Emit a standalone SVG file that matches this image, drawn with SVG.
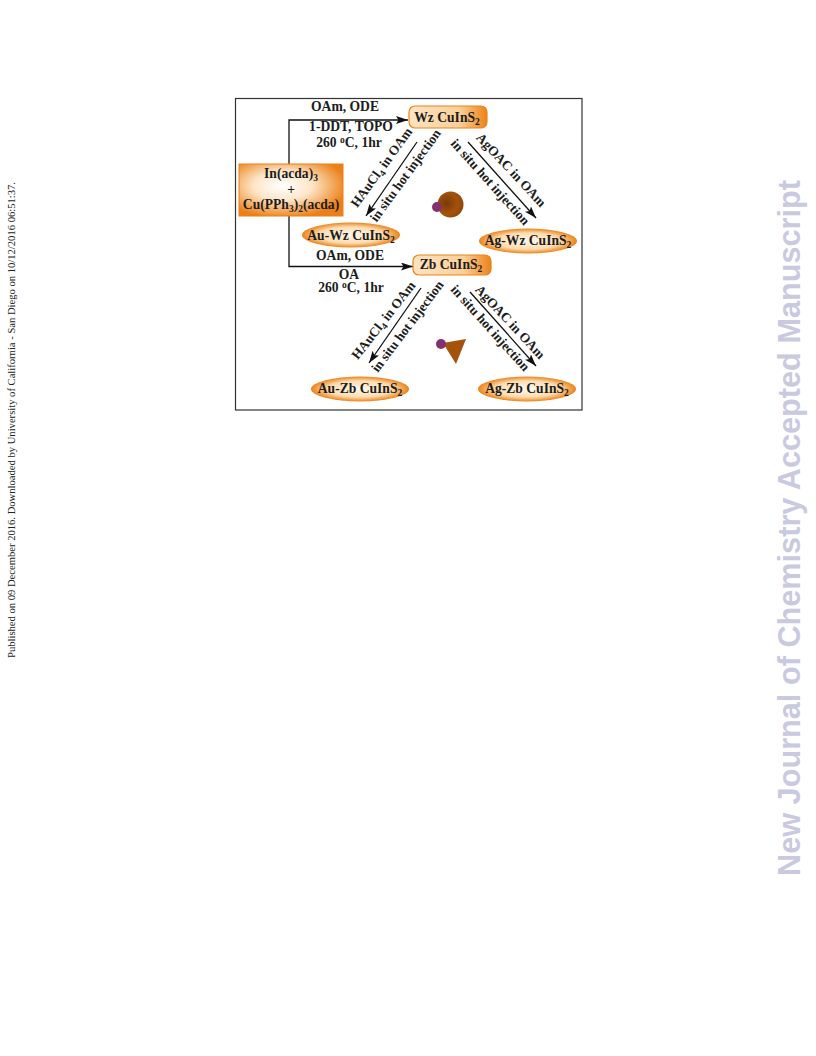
<svg xmlns="http://www.w3.org/2000/svg" width="816" height="1056" viewBox="0 0 816 1056">
<style>
.t{font-family:"Liberation Serif","Times New Roman",serif;font-weight:bold;font-size:13.6px;fill:#1c1c1c;text-anchor:middle}
.d{font-size:13.4px}
.s{font-size:9.5px}
.a{stroke:#111;stroke-width:1.3;fill:none;marker-end:url(#ah)}
</style>
<defs>
<marker id="ah" markerUnits="userSpaceOnUse" markerWidth="14" markerHeight="10" refX="12" refY="4" orient="auto"><path d="M0 0L12 4L0 8L2.5 4Z" fill="#111"/></marker>
<radialGradient id="e" cx="50%" cy="50%" r="50%"><stop offset="0" stop-color="#fff8ee"/><stop offset=".65" stop-color="#fcdcb0"/><stop offset="1" stop-color="#ec8318"/></radialGradient>
<radialGradient id="r" cx="42%" cy="42%" r="62%"><stop offset="0" stop-color="#ffffff"/><stop offset=".45" stop-color="#fde6c8"/><stop offset="1" stop-color="#ec8018"/></radialGradient>
<linearGradient id="p" x1="0" y1="0" x2="1" y2="0"><stop offset="0" stop-color="#fde4c4"/><stop offset=".65" stop-color="#fbcf98"/><stop offset="1" stop-color="#ec8318"/></linearGradient>
<radialGradient id="b" cx="35%" cy="45%" r="70%"><stop offset="0" stop-color="#7a3a08"/><stop offset=".6" stop-color="#a4520c"/><stop offset="1" stop-color="#8a4408"/></radialGradient>
</defs>
<text transform="translate(15 658) rotate(-90)" font-family="Liberation Serif,serif" font-size="9.6" fill="#222" textLength="476" lengthAdjust="spacingAndGlyphs">Published on 09 December 2016. Downloaded by University of California - San Diego on 10/12/2016 06:51:37.</text>
<text transform="translate(800 876) rotate(-90)" font-family="Liberation Sans,Arial,sans-serif" font-weight="bold" font-size="31" fill="#c9c9df" textLength="696" lengthAdjust="spacingAndGlyphs">New Journal of Chemistry Accepted Manuscript</text>
<rect id="frame" x="235.5" y="98.500" width="346.5" height="311.5" fill="#fff" stroke="#333" stroke-width="1.2"/>
<g id="connectors">
<path class="a" d="M289 164V120H408"/>
<path class="a" d="M289 216V266.500H413"/>
<path class="a" d="M417 142L366 216"/>
<path class="a" d="M468 142L536 218"/>
<path class="a" d="M421 288L369 363"/>
<path class="a" d="M470 292L536 366"/>
</g>
<g id="labels">
<text class="t" x="345" y="111">OAm, ODE</text>
<text class="t" x="351" y="131">1-DDT, TOPO</text>
<text class="t" x="349" y="147">260 <tspan dy="-4" class="s">o</tspan><tspan dy="4">C, 1hr</tspan></text>
<text class="t" x="350" y="260">OAm, ODE</text>
<text class="t" x="349" y="279">OA</text>
<text class="t" x="351" y="292">260 <tspan dy="-4" class="s">o</tspan><tspan dy="4">C, 1hr</tspan></text>
<text class="t d" transform="translate(385 170) rotate(-54)">HAuCl<tspan dy="3" class="s">4</tspan><tspan dy="-3"> in OAm</tspan></text>
<text class="t d" transform="translate(409 178) rotate(-54)">in situ hot injection</text>
<text class="t d" transform="translate(508 173) rotate(47)">AgOAC in OAm</text>
<text class="t d" transform="translate(487 185) rotate(48)">in situ hot injection</text>
<text class="t d" transform="translate(387 323) rotate(-52)">HAuCl<tspan dy="3" class="s">4</tspan><tspan dy="-3"> in OAm</tspan></text>
<text class="t d" transform="translate(411 329) rotate(-53)">in situ hot injection</text>
<text class="t d" transform="translate(507 325) rotate(47)">AgOAC in OAm</text>
<text class="t d" transform="translate(487 331) rotate(48)">in situ hot injection</text>
</g>
<g id="precursor">
<rect x="239" y="164" width="104" height="52" fill="url(#r)" stroke="#ec8018"/>
<text class="t" x="291" y="178">In(acda)<tspan dy="3" class="s">3</tspan></text>
<text class="t" x="291" y="194" font-weight="normal">+</text>
<text class="t" x="291" y="209">Cu(PPh<tspan dy="3" class="s">3</tspan><tspan dy="-3">)</tspan><tspan dy="3" class="s">2</tspan><tspan dy="-3">(acda)</tspan></text>
</g>
<g id="wz">
<rect x="409" y="106" width="78" height="22" rx="6" fill="url(#p)" stroke="#ec8318" stroke-width="1.2"/>
<text class="t" x="447" y="122">Wz CuInS<tspan dy="3" class="s">2</tspan></text>
</g>
<g id="zb">
<rect x="413" y="255" width="78" height="20" rx="6" fill="url(#p)" stroke="#ec8318" stroke-width="1.2"/>
<text class="t" x="451" y="269">Zb CuInS<tspan dy="3" class="s">2</tspan></text>
</g>
<g id="au-wz">
<ellipse cx="351" cy="235" rx="49" ry="12.500" fill="url(#e)"/>
<text class="t" x="351" y="240">Au-Wz CuInS<tspan dy="3" class="s">2</tspan></text>
</g>
<g id="ag-wz">
<ellipse cx="528" cy="241" rx="49" ry="12.500" fill="url(#e)"/>
<text class="t" x="528" y="245">Ag-Wz CuInS<tspan dy="3" class="s">2</tspan></text>
</g>
<g id="au-zb">
<ellipse cx="360" cy="389" rx="49" ry="12.500" fill="url(#e)"/>
<text class="t" x="360" y="393">Au-Zb CuInS<tspan dy="3" class="s">2</tspan></text>
</g>
<g id="ag-zb">
<ellipse cx="527" cy="389" rx="49" ry="12.500" fill="url(#e)"/>
<text class="t" x="527" y="393">Ag-Zb CuInS<tspan dy="3" class="s">2</tspan></text>
</g>
<g id="sphere">
<circle cx="450.500" cy="204.500" r="13" fill="url(#b)"/>
<circle cx="437" cy="207" r="5" fill="#84306f"/>
</g>
<g id="tetra">
<path d="M443 343L466 339L456 364Z" fill="#a4520c"/>
<circle cx="441" cy="344" r="5" fill="#84306f"/>
</g>
</svg>
